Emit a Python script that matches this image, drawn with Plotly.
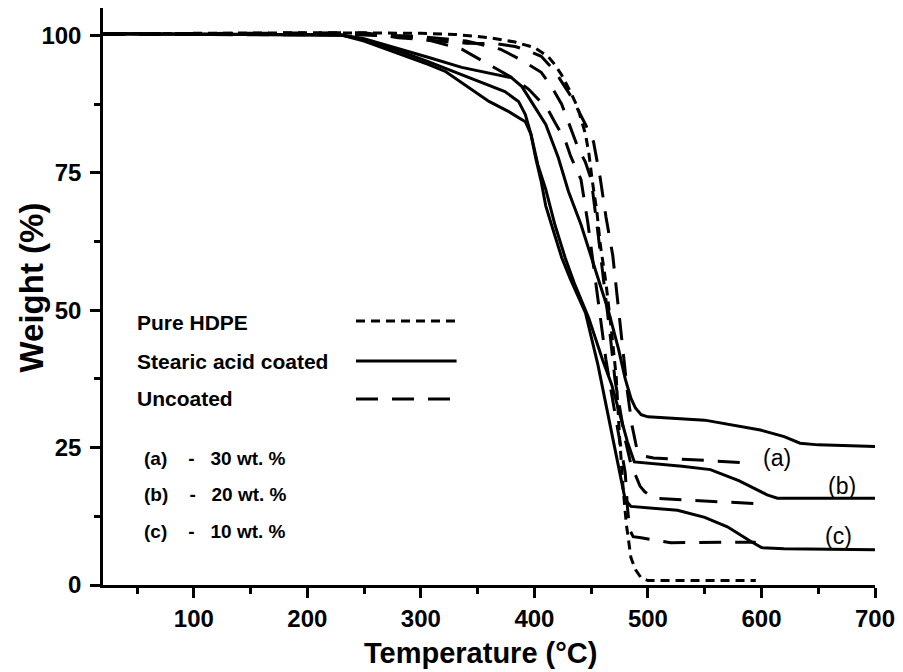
import plotly.graph_objects as go

# ---------------- data ----------------
hdpe_T = [20, 100, 200, 300, 330, 360, 383, 400, 412, 418, 424, 432, 438, 445, 448, 451, 455, 458, 463, 468, 472, 475, 478, 481, 485, 489, 494, 500, 550, 595]
hdpe_W = [100.3, 100.4, 100.5, 100.4, 100.2, 99.6, 98.8, 97.8, 96.2, 94.7, 92.8, 89.6, 87.0, 82.0, 78.5, 73.5, 68.0, 62.0, 55.0, 46.0, 38.0, 27.0, 18.0, 11.0, 5.0, 2.8, 1.3, 0.8, 0.8, 0.8]

coat_a_T = [20, 230, 250, 278, 307, 336, 351, 380, 389, 397, 410, 421, 430, 441, 450, 456, 465, 474, 480, 485, 489, 494, 500, 550, 599, 620, 634, 650, 700]
coat_a_W = [100.3, 100.1, 99.4, 97.8, 96.0, 94.2, 93.6, 92.3, 90.7, 88.0, 83.8, 77.8, 71.6, 65.6, 59.6, 56.0, 50.0, 43.0, 37.5, 34.0, 32.2, 31.0, 30.6, 30.0, 28.2, 27.0, 25.8, 25.5, 25.2]

coat_b_T = [20, 230, 250, 278, 307, 336, 360, 374, 386, 392, 397, 403, 410, 418, 427, 435, 448, 460, 468, 475, 482, 488, 500, 530, 555, 580, 605, 614, 700]
coat_b_W = [100.3, 100.1, 99.2, 97.4, 95.2, 92.9, 91.0, 89.8, 88.0, 85.6, 82.0, 76.5, 72.0, 65.6, 59.6, 55.0, 48.5, 41.0, 36.5, 31.0, 26.0, 22.4, 22.2, 21.6, 21.0, 19.0, 16.4, 15.8, 15.8]

coat_c_T = [20, 230, 250, 278, 307, 322, 342, 360, 377, 392, 397, 401, 406, 410, 415, 424, 432, 445, 456, 465, 474, 480, 485, 500, 526, 550, 570, 590, 600, 620, 700]
coat_c_W = [100.3, 100.1, 99.0, 96.9, 94.7, 93.4, 90.5, 88.0, 86.2, 84.3, 82.0, 77.8, 73.4, 69.0, 65.6, 59.6, 55.5, 49.5, 40.0, 31.0, 22.0, 15.5, 14.3, 14.0, 13.6, 12.3, 10.6, 8.0, 6.8, 6.6, 6.4]

unc_a_T = [20, 250, 280, 320, 340, 366, 383, 392, 406, 418, 432, 445, 452, 458, 463, 469, 474, 478, 482, 486, 490, 496, 505, 540, 589]
unc_a_W = [100.3, 100.5, 99.6, 99.0, 98.6, 98.5, 98.0, 97.4, 96.2, 93.5, 89.0, 83.8, 80.7, 74.0, 67.0, 60.0, 50.0, 42.0, 35.0, 29.0, 25.0, 23.5, 23.1, 22.8, 22.2]

unc_b_T = [20, 250, 300, 340, 370, 388, 406, 415, 424, 432, 438, 445, 450, 456, 462, 467, 471, 476, 480, 485, 489, 493, 497, 505, 530, 560, 596]
unc_b_W = [100.2, 100.2, 99.8, 99.0, 97.5, 95.6, 93.3, 90.7, 87.5, 83.0, 79.8, 76.9, 73.8, 64.0, 54.0, 45.0, 37.3, 31.0, 26.4, 22.0, 20.0, 18.0, 17.0, 15.8, 15.5, 15.2, 14.8]

unc_c_T = [20, 250, 290, 310, 336, 357, 383, 395, 412, 418, 427, 432, 441, 447, 453, 458, 463, 467, 472, 476, 480, 482, 484, 487, 494, 520, 550, 585, 595]
unc_c_W = [100.2, 100.1, 99.8, 99.0, 97.5, 95.1, 92.0, 90.2, 86.5, 84.2, 81.0, 78.0, 73.8, 66.0, 57.0, 49.0, 41.0, 36.0, 30.0, 25.0, 20.4, 14.0, 10.0, 8.8, 8.6, 7.7, 7.7, 7.8, 7.8]

legend_labels = ["Pure HDPE", "Stearic acid coated", "Uncoated"]
NB = "\u00a0"
loading_labels = ["(a)" + NB * 4 + "-" + NB * 3 + "30 wt. %",
                  "(b)" + NB * 4 + "-" + NB * 3 + "20 wt. %",
                  "(c)" + NB * 4 + "-" + NB * 3 + "10 wt. %"]
curve_labels = ["(a)", "(b)", "(c)"]
curve_label_T = [614, 671, 668]
curve_label_W = [23.1, 18.0, 8.9]

x_ticks = [100, 200, 300, 400, 500, 600, 700]
y_ticks = [0, 25, 50, 75, 100]

# ---------------- styles ----------------
FONT = "Liberation Sans, Arial, sans-serif"
DOT = "9px,6px"
DASH = "22px,14px"
LW = 3

fig = go.Figure()

def add(T, W, dash):
    fig.add_trace(go.Scatter(x=T, y=W, mode="lines",
                             line=dict(color="black", width=LW, dash=dash),
                             showlegend=False, hoverinfo="skip"))

add(hdpe_T, hdpe_W, DOT)
add(unc_a_T, unc_a_W, DASH)
add(unc_b_T, unc_b_W, DASH)
add(unc_c_T, unc_c_W, DASH)
add(coat_a_T, coat_a_W, "solid")
add(coat_b_T, coat_b_W, "solid")
add(coat_c_T, coat_c_W, "solid")

axis_common = dict(
    showgrid=False, zeroline=False, showline=True, linecolor="black", linewidth=2.5,
    ticks="outside", ticklen=10, tickwidth=2.5, tickcolor="black",
    tickfont=dict(family=FONT, size=24, color="black", weight="bold"),
    mirror=False,
)

fig.update_xaxes(range=[20, 700], tickvals=x_ticks, **axis_common,
                 minor=dict(dtick=50, tick0=0, ticks="outside", ticklen=6, tickwidth=2.5, tickcolor="black"))
fig.update_yaxes(range=[0, 105], tickvals=y_ticks, ticklabelstandoff=4, **axis_common,
                 minor=dict(dtick=12.5, tick0=0, ticks="outside", ticklen=6, tickwidth=2.5, tickcolor="black"))

ann = []
# axis titles
ann.append(dict(text="Temperature (°C)", xref="paper", yref="paper", x=0.489, y=-0.118,
                xanchor="center", yanchor="middle", showarrow=False,
                font=dict(family=FONT, size=29, color="black", weight="bold")))
ann.append(dict(text="Weight (%)", xref="paper", yref="paper", x=-0.093, y=0.516,
                xanchor="center", yanchor="middle", showarrow=False, textangle=-90,
                font=dict(family=FONT, size=33, color="black", weight="bold")))

# legend texts
leg_y = [0.4541, 0.3865, 0.3224]
for lab, yy in zip(legend_labels, leg_y):
    ann.append(dict(text=lab, xref="paper", yref="paper", x=0.0413, y=yy,
                    xanchor="left", yanchor="middle", showarrow=False,
                    font=dict(family=FONT, size=21, color="black", weight="bold")))
load_y = [0.2201, 0.156, 0.0919]
for lab, yy in zip(loading_labels, load_y):
    ann.append(dict(text=lab, xref="paper", yref="paper", x=0.0503, y=yy,
                    xanchor="left", yanchor="middle", showarrow=False,
                    font=dict(family=FONT, size=19, color="black", weight="bold")))
for lab, t, w in zip(curve_labels, curve_label_T, curve_label_W):
    ann.append(dict(text=lab, x=t, y=w, xanchor="center", yanchor="middle", showarrow=False,
                    font=dict(family=FONT, size=23, color="black")))

# legend line samples
shapes = []
line_y = [0.4575, 0.3882, 0.3224]
for yy, d in zip(line_y, [DOT, "solid", DASH]):
    shapes.append(dict(type="line", xref="paper", yref="paper", x0=0.3277, x1=0.458,
                       y0=yy, y1=yy, line=dict(color="black", width=LW, dash=d)))

fig.update_layout(
    width=903, height=672,
    margin=dict(l=103, r=25, t=8, b=87),
    paper_bgcolor="white", plot_bgcolor="white",
    annotations=ann, shapes=shapes,
    showlegend=False,
)

fig.write_html("out.html",
               config={"displayModeBar": False},
               post_script="document.body.style.margin='0px';document.body.style.overflow='hidden';")
